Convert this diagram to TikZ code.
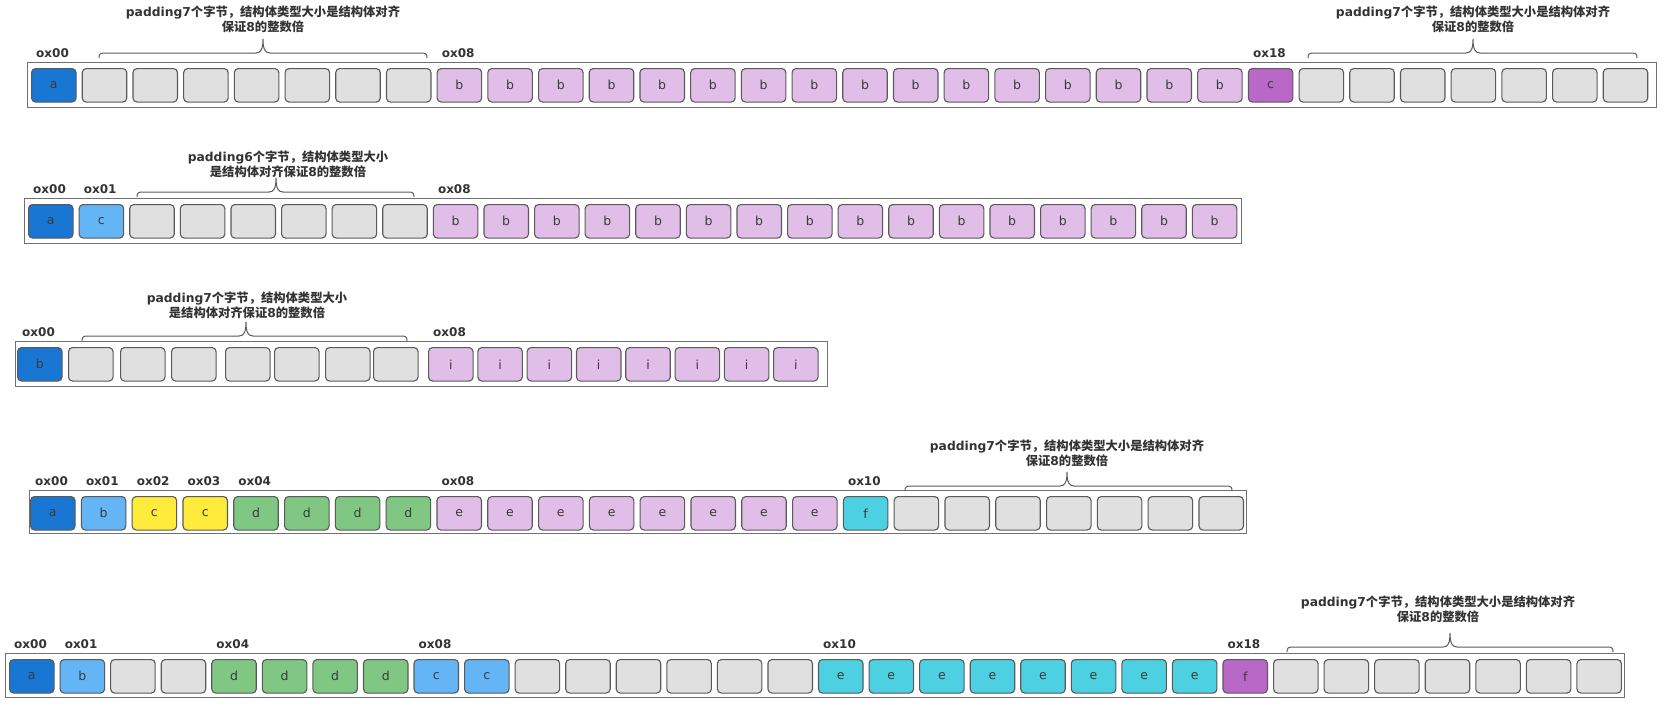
\documentclass[tikz,border=0pt]{standalone}
\usepackage{fontspec}
\setmainfont{DejaVu Sans}
\newfontfamily\cjk{Noto Sans CJK SC}
\usetikzlibrary{calc}
\definecolor{cA}{HTML}{1976D2}
\definecolor{cL}{HTML}{64B5F6}
\definecolor{cG}{HTML}{E0E0E0}
\definecolor{cP}{HTML}{E1BEE7}
\definecolor{cPP}{HTML}{BA68C8}
\definecolor{cY}{HTML}{FFEB3B}
\definecolor{cGr}{HTML}{81C784}
\definecolor{cC}{HTML}{4DD0E1}
\definecolor{cellline}{HTML}{5A5A5A}
\definecolor{boxline}{HTML}{707070}
\definecolor{txt}{HTML}{333333}
\definecolor{celltxt}{HTML}{3A3A3A}
\tikzset{
  cell/.style={draw=cellline, rounded corners=4pt, line width=1.1pt, minimum width=44.5pt,
    minimum height=33.5pt, inner sep=0pt, anchor=north west, text=celltxt,
    font=\fontsize{12.5}{12.5}\selectfont},
  box/.style={draw=boxline, fill=white, line width=1.1pt, anchor=north west, inner sep=0pt},
  addr/.style={font=\bfseries\fontsize{12}{12}\selectfont, text=txt, anchor=base west, inner sep=0pt},
  note/.style={font=\bfseries\fontsize{12.3}{15}\selectfont, text=txt, align=center, anchor=south, inner sep=0pt},
  bracel/.style={draw=cellline, line width=1pt},
}
% row with uniform pitch
\newcommand\memrow[8]{%
  \node[box, minimum width={(#4-#2)*1pt}, minimum height={(#5-#3)*1pt}] (#1) at (#2,#3) {};
  \foreach \c/\t [count=\i from 0] in {#8} {\node[cell, fill=\c] (#1c\i) at ({#6+\i*#7},#3+6) {\t};}
}
% row with explicit cell positions
\newcommand\memrowx[6]{%
  \node[box, minimum width={(#4-#2)*1pt}, minimum height={(#5-#3)*1pt}] (#1) at (#2,#3) {};
  \foreach \x/\c/\t [count=\i from 0] in {#6} {\node[cell, fill=\c] (#1c\i) at (\x,#3+6) {\t};}
}
\newcommand\addr[3]{\node[addr] (#1l#2) at ($(#1c#2.north west)+(5,-10.5)$) {ox#3};}
\newcommand\padbrace[7]{%
  \coordinate (#1a) at (#2,#5+5);
  \coordinate (#1b) at (#3,#5+5);
  \coordinate (#1t) at (#4,#5-14);
  \draw[bracel] (#1a) .. controls (#2,#5+1) and (#2+1,#5) .. (#2+6,#5) -- (#4-7,#5)
    .. controls (#4-2,#5) and (#4,#5-4) .. (#1t)
    .. controls (#4,#5-4) and (#4+2,#5) .. (#4+7,#5) -- (#3-6,#5)
    .. controls (#3-1,#5) and (#3,#5+1) .. (#1b);
  \node[note] (#1n) at (#6) {#7};
}
\begin{document}
\begin{tikzpicture}[x=1pt,y=-1pt]
\useasboundingbox (0,0) rectangle (1669,712);
% Row 1
\memrow{ra}{27}{62}{1656}{107}{31}{50.7}{cA/a,cG/{},cG/{},cG/{},cG/{},cG/{},cG/{},cG/{},cP/b,cP/b,cP/b,cP/b,cP/b,cP/b,cP/b,cP/b,cP/b,cP/b,cP/b,cP/b,cP/b,cP/b,cP/b,cP/b,cPP/c,cG/{},cG/{},cG/{},cG/{},cG/{},cG/{},cG/{}}
\addr{ra}{0}{00}\addr{ra}{8}{08}\addr{ra}{24}{18}
\padbrace{rab}{99}{427}{263}{53}{263,33}{padding7{\cjk 个字节，结构体类型大小是结构体对齐}\\{\cjk 保证}8{\cjk 的整数倍}}
\padbrace{rac}{1308}{1637}{1473}{53}{1473,33}{padding7{\cjk 个字节，结构体类型大小是结构体对齐}\\{\cjk 保证}8{\cjk 的整数倍}}
% Row 2
\memrow{rb}{24}{198}{1241}{243}{28}{50.6}{cA/a,cL/c,cG/{},cG/{},cG/{},cG/{},cG/{},cG/{},cP/b,cP/b,cP/b,cP/b,cP/b,cP/b,cP/b,cP/b,cP/b,cP/b,cP/b,cP/b,cP/b,cP/b,cP/b,cP/b}
\addr{rb}{0}{00}\addr{rb}{1}{01}\addr{rb}{8}{08}
\padbrace{rbb}{137}{414}{276}{192}{288,178}{padding6{\cjk 个字节，结构体类型大小}\\{\cjk 是结构体对齐保证}8{\cjk 的整数倍}}
% Row 3
\memrowx{rc}{15}{341}{827}{386}{17/cA/b,68/cG/{},120/cG/{},171/cG/{},225/cG/{},274/cG/{},325/cG/{},373/cG/{},428/cP/i,477.3/cP/i,526.6/cP/i,575.9/cP/i,625.2/cP/i,674.5/cP/i,723.8/cP/i,773/cP/i}
\addr{rc}{0}{00}\addr{rc}{8}{08}
\padbrace{rcb}{82}{407}{246}{336}{247,319}{padding7{\cjk 个字节，结构体类型大小}\\{\cjk 是结构体对齐保证}8{\cjk 的整数倍}}
% Row 4
\memrow{rd}{29}{490}{1246}{533}{30}{50.8}{cA/a,cL/b,cY/c,cY/c,cGr/d,cGr/d,cGr/d,cGr/d,cP/e,cP/e,cP/e,cP/e,cP/e,cP/e,cP/e,cP/e,cC/f,cG/{},cG/{},cG/{},cG/{},cG/{},cG/{},cG/{}}
\addr{rd}{0}{00}\addr{rd}{1}{01}\addr{rd}{2}{02}\addr{rd}{3}{03}\addr{rd}{4}{04}\addr{rd}{8}{08}\addr{rd}{16}{10}
\padbrace{rdb}{905}{1232}{1067}{486}{1067,467}{padding7{\cjk 个字节，结构体类型大小是结构体对齐}\\{\cjk 保证}8{\cjk 的整数倍}}
% Row 5
\memrow{re}{5}{653}{1624}{697}{9}{50.56}{cA/a,cL/b,cG/{},cG/{},cGr/d,cGr/d,cGr/d,cGr/d,cL/c,cL/c,cG/{},cG/{},cG/{},cG/{},cG/{},cG/{},cC/e,cC/e,cC/e,cC/e,cC/e,cC/e,cC/e,cC/e,cPP/f,cG/{},cG/{},cG/{},cG/{},cG/{},cG/{},cG/{}}
\addr{re}{0}{00}\addr{re}{1}{01}\addr{re}{4}{04}\addr{re}{8}{08}\addr{re}{16}{10}\addr{re}{24}{18}
\padbrace{reb}{1287}{1613}{1450}{647}{1438,623}{padding7{\cjk 个字节，结构体类型大小是结构体对齐}\\{\cjk 保证}8{\cjk 的整数倍}}
\end{tikzpicture}
\end{document}
